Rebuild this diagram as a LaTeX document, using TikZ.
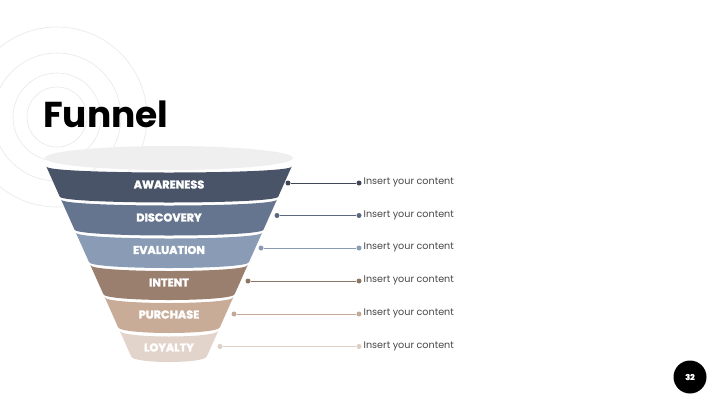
\documentclass[tikz,border=0pt]{standalone}
\usepackage{fontspec}
\setmainfont{Poppins}
\newfontfamily\heavyfont{Poppins}[BoldFeatures={FakeBold=2.2}]
\definecolor{cA}{HTML}{4A5468}
\definecolor{cB}{HTML}{66758F}
\definecolor{cC}{HTML}{8A9CB5}
\definecolor{cD}{HTML}{9A7F6E}
\definecolor{cE}{HTML}{C8AC98}
\definecolor{cF}{HTML}{E2D4CA}
\definecolor{lA}{HTML}{3F4656}
\definecolor{lB}{HTML}{5B6680}
\definecolor{lC}{HTML}{8A9CB5}
\definecolor{lD}{HTML}{8E7665}
\definecolor{lE}{HTML}{C4AA96}
\definecolor{lF}{HTML}{DCCFC4}
\definecolor{topgray}{HTML}{EFEFEF}
\definecolor{ringgray}{HTML}{E8E8E8}
\definecolor{txtgray}{HTML}{474747}
\newcommand\funband[6]{%
  \pgfmathsetmacro\hwt{122.5-0.447*(#3-167)}%
  \pgfmathsetmacro\hwb{122.5-0.447*(#4-167)}%
  \fill[#2] (169-\hwt,#3) -- (169-\hwb,#4)
     .. controls (169-\hwb,#4+8) and (169+\hwb,#4+8) .. (169+\hwb,#4)
     -- (169+\hwt,#3)
     .. controls (169+\hwt,#3+8) and (169-\hwt,#3+8) .. (169-\hwt,#3) -- cycle;
  \node[bandlabel] (#1) at (169,#6) {#5};
}
\newcommand\funrow[5]{% name, line colour, left x, y, text
  \node[dotnode=#2] (#1a) at (#3,#4) {};
  \node[dotnode=#2] (#1b) at (359,#4) {};
  \draw[conn=#2] (#1a) -- (#1b);
  \node[content] (#1t) at (363.5,#4-0.5) {#5};
}
\begin{document}
\begin{tikzpicture}[x=1pt,y=-1pt,
  ring/.style={draw=ringgray,line width=0.6pt},
  bandlabel/.style={text=white,font=\heavyfont\bfseries\fontsize{11.3}{13}\selectfont,inner sep=0},
  dotnode/.style={circle,inner sep=0,minimum size=5pt,fill=#1},
  conn/.style={draw=#1,line width=0.9pt},
  content/.style={anchor=west,inner sep=0,text=txtgray,font=\fontsize{9.6}{11}\selectfont}]
\useasboundingbox (0,0) rectangle (720,405);
\fill[white] (0,0) rectangle (720,405);
\foreach \r in {30,44,64,90} \draw[ring] (57,117) circle[radius=\r];
\node[anchor=base west,inner sep=0,font=\bfseries\fontsize{36}{40}\selectfont] (title) at (43,127) {Funnel};
\fill[topgray] (169,158) ellipse[x radius=124,y radius=12];
\funband{awareness}{cA}{166.5}{196.5}{AWARENESS}{184.5}
\funband{discovery}{cB}{199.5}{229.5}{DISCOVERY}{217.5}
\funband{evaluation}{cC}{232.5}{262}{EVALUATION}{250}
\funband{intent}{cD}{265}{294}{INTENT}{282.5}
\funband{purchase}{cE}{297}{327}{PURCHASE}{314.5}
\funband{loyalty}{cF}{330.5}{356}{LOYALTY}{347.5}
\funrow{r1}{lA}{288}{183}{Insert your content}
\funrow{r2}{lB}{277}{215.5}{Insert your content}
\funrow{r3}{lC}{261}{248}{Insert your content}
\funrow{r4}{lD}{248}{281}{Insert your content}
\funrow{r5}{lE}{234}{314}{Insert your content}
\funrow{r6}{lF}{220}{346.5}{Insert your content}
\node[circle,fill=black,minimum size=33pt,inner sep=0,text=white,font=\heavyfont\bfseries\fontsize{8}{9}\selectfont] (pg) at (690,377) {32};
\end{tikzpicture}
\end{document}
